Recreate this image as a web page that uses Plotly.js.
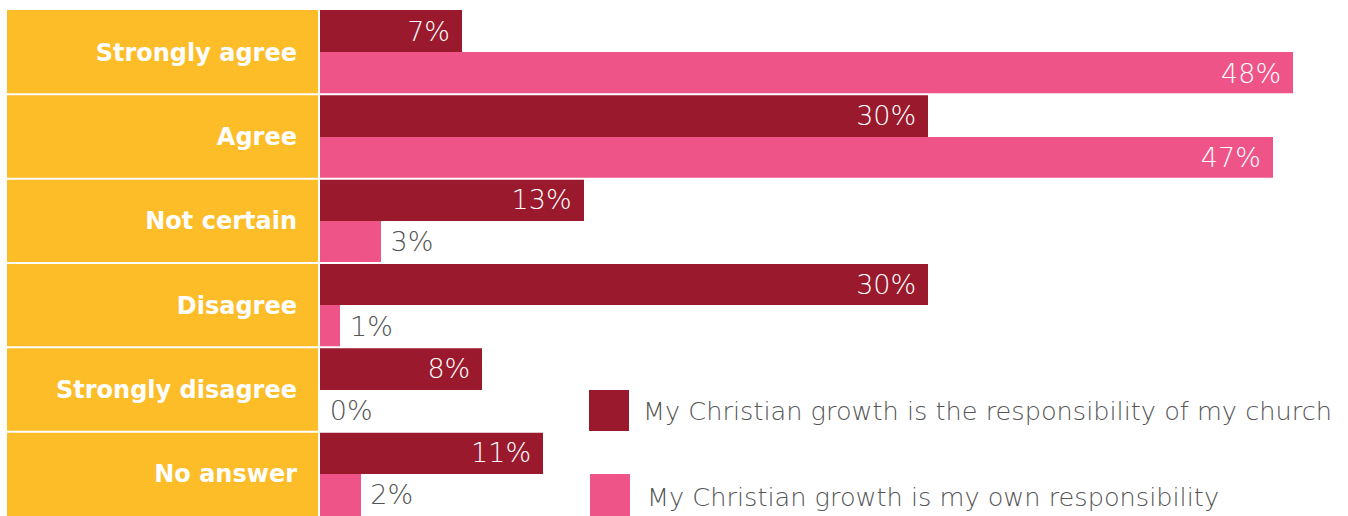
<!DOCTYPE html>
<html>
<head>
<meta charset="utf-8">
<script src="https://cdn.plot.ly/plotly-3.0.1.min.js"></script>
<style>html,body{margin:0;padding:0;background:#fff;}#chart{width:1348px;height:516px;}</style>
</head>
<body>
<div id="chart"></div>
<script>
const categories = ['Strongly agree', 'Agree', 'Not certain', 'Disagree', 'Strongly disagree', 'No answer'];
const churchValues = [7, 30, 13, 30, 8, 11];
const ownValues = [48, 47, 3, 1, 0, 2];
const seriesNames = ['My Christian growth is the responsibility of my church', 'My Christian growth is my own responsibility'];
const seriesColors = ['#9A192C', '#EF5489'];

const W = 1348, H = 516, L = 320, T = 10;
const plotW = W - L, plotH = H - T;
const pxPerPct = 20.27;
const px = v => (v - L) / plotW;
const py = v => 1 - (v - T) / plotH;

const LIGHT = '"DejaVu Sans", "Open Sans", sans-serif';

function makeTrace(values, i) {
  const pos = values.map(v => v >= 5 ? 'inside' : 'outside');
  const txt = values.map(v => v >= 5 ? v + '%\u2004' : '\u2005' + v + '%');
  return {
    type: 'bar', orientation: 'h',
    x: values, y: categories,
    name: seriesNames[i],
    marker: {color: seriesColors[i], line: {width: 0}},
    text: txt, textposition: pos, texttemplate: '%{text}',
    insidetextanchor: 'end',
    insidetextfont: {family: LIGHT, size: 27, color: '#ffffff', weight: 200},
    outsidetextfont: {family: LIGHT, size: 27, color: '#555555', weight: 200},
    constraintext: 'none', cliponaxis: false,
    hoverinfo: 'skip', showlegend: false
  };
}

const traces = [makeTrace(churchValues, 0), makeTrace(ownValues, 1)];

const shapes = [
  {type: 'rect', xref: 'paper', yref: 'paper', x0: px(7), x1: px(318), y0: 0, y1: 1,
   fillcolor: '#FDBD29', line: {width: 0}, layer: 'below'}
];
for (let i = 0; i < categories.length - 1; i++) {
  shapes.push({type: 'line', xref: 'paper', yref: 'y', x0: px(7), x1: 1, y0: i + 0.5, y1: i + 0.5,
    line: {color: '#ffffff', width: 2}, layer: 'above'});
}
// legend squares
shapes.push({type: 'rect', xref: 'paper', yref: 'paper', x0: px(589), x1: px(629), y0: py(431), y1: py(390),
  fillcolor: seriesColors[0], line: {width: 0}});
shapes.push({type: 'rect', xref: 'paper', yref: 'paper', x0: px(590), x1: px(630), y0: py(516), y1: py(474),
  fillcolor: seriesColors[1], line: {width: 0}});

const annotations = [
  {xref: 'paper', yref: 'paper', x: px(641), y: py(411), xanchor: 'left', yanchor: 'middle', showarrow: false,
   text: seriesNames[0], font: {family: LIGHT, size: 25.6, color: '#555555', weight: 200}},
  {xref: 'paper', yref: 'paper', x: px(645), y: py(497), xanchor: 'left', yanchor: 'middle', showarrow: false,
   text: seriesNames[1], font: {family: LIGHT, size: 25.6, color: '#555555', weight: 200}}
];

const layout = {
  width: W, height: H,
  margin: {l: L, r: 0, t: T, b: 0, pad: 0},
  paper_bgcolor: '#ffffff', plot_bgcolor: '#ffffff',
  barmode: 'group', bargap: 0, bargroupgap: 0,
  showlegend: false,
  xaxis: {range: [0, plotW / pxPerPct], visible: false, fixedrange: true},
  yaxis: {type: 'category', autorange: 'reversed', showgrid: false, zeroline: false, showline: false,
    ticks: '', ticklabelstandoff: 22,
    tickfont: {family: '"DejaVu Sans", "Open Sans", sans-serif', size: 24, color: '#ffffff', weight: 700}},
  shapes: shapes,
  annotations: annotations
};

Plotly.newPlot('chart', traces, layout, {staticPlot: true, displayModeBar: false});
</script>
</body>
</html>
